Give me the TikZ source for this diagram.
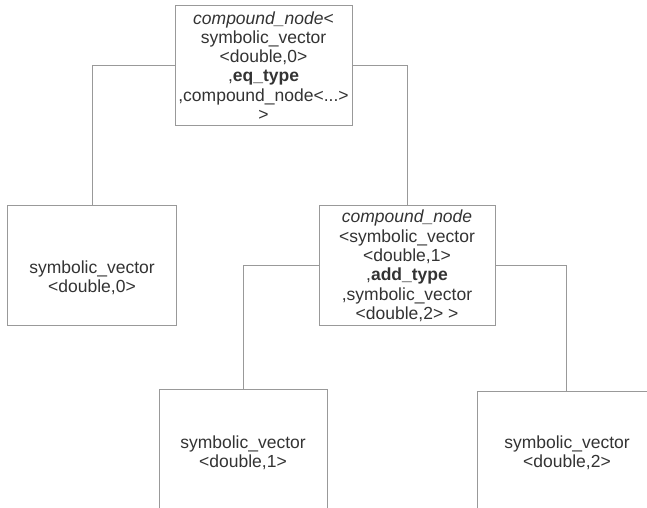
\documentclass[tikz,border=0pt]{standalone}
\usepackage{fontspec}
\setmainfont{Liberation Sans}
\definecolor{edgecol}{HTML}{999999}
\definecolor{txtcol}{HTML}{333333}
\begin{document}
\begin{tikzpicture}[x=1pt,y=-1pt,
  box/.style={draw=edgecol,line width=1pt,rectangle,inner sep=0pt,anchor=north west},
  txt/.style={text=txtcol,align=center,inner sep=0pt,font=\fontsize{17.5}{19.3}\selectfont},
  conn/.style={draw=edgecol,line width=1pt}]
\useasboundingbox (0,0) rectangle (647,507);
\clip (0,0) rectangle (647,507);
\node[box,minimum width=177pt,minimum height=120pt] (top) at (175,5) {};
\node[box,minimum width=169pt,minimum height=120pt] (left) at (7,205) {};
\node[box,minimum width=176pt,minimum height=120pt] (mid) at (319,205) {};
\node[box,minimum width=168pt,minimum height=120pt] (bl) at (159,389) {};
\node[box,minimum width=178pt,minimum height=120pt] (br) at (477,391) {};
\node[txt] (toptxt) at (263.5,66) {\textit{compound\_node}<\\symbolic\_vector\\<double,0>\\,\textbf{eq\_type}\\,compound\_node<...>\\>};
\node[txt] (lefttxt) at (92,278) {symbolic\_vector\\<double,0>};
\node[txt] (midtxt) at (407,266) {\textit{compound\_node}\\<symbolic\_vector\\<double,1>\\,\textbf{add\_type}\\,symbolic\_vector\\<double,2> >};
\node[txt] (bltxt) at (243,453) {symbolic\_vector\\<double,1>};
\node[txt] (brtxt) at (567,453) {symbolic\_vector\\<double,2>};
\draw[conn] (top.west) -| (left.north);
\draw[conn] (top.east) -| (mid.north);
\draw[conn] (mid.west) -| (bl.north);
\draw[conn] (mid.east) -| (br.north);
\end{tikzpicture}
\end{document}
